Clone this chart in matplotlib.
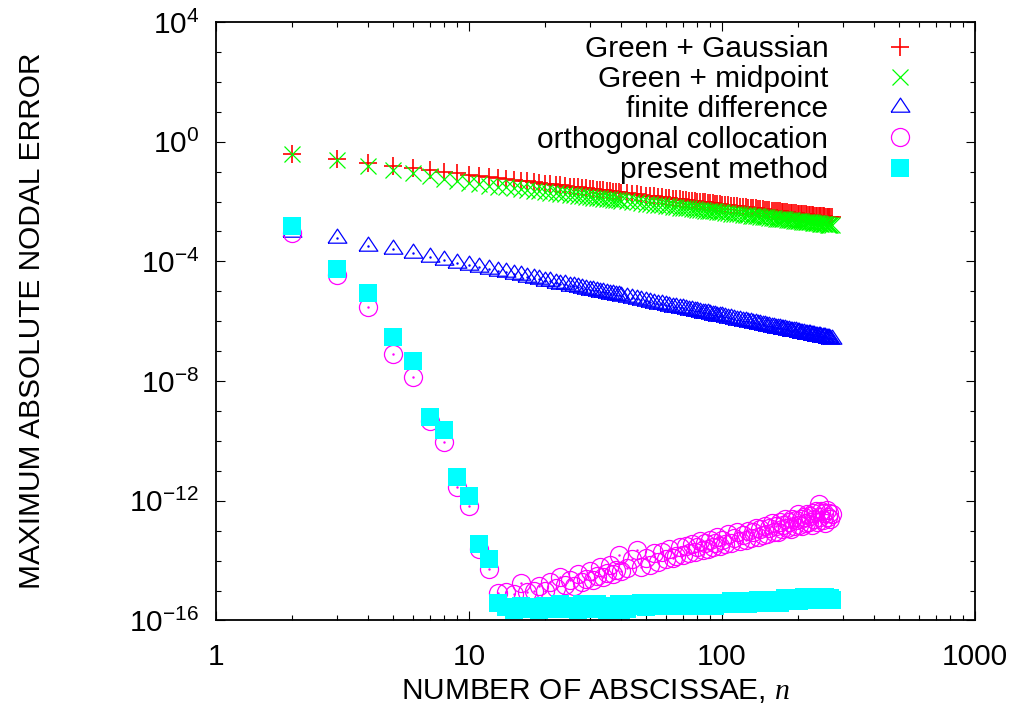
import numpy as np
import matplotlib
matplotlib.use("Agg")
import matplotlib.pyplot as plt
from matplotlib.ticker import NullFormatter

plt.rcParams["font.family"] = ["Liberation Sans", "DejaVu Sans"]
plt.rcParams["mathtext.fontset"] = "custom"
plt.rcParams["mathtext.rm"] = "Liberation Sans"
plt.rcParams["mathtext.it"] = "Liberation Serif:italic"

# number of abscissae (sampled from the plotted range)
n_vals = [2, 3, 4, 5, 6, 7, 8, 9, 10, 11, 12, 13,
          14, 15, 16, 17, 18, 19, 20, 21, 22, 23, 24, 25, 26, 27, 28, 29, 30,
          31, 32, 33, 34, 35, 36, 37, 38, 39, 40,
          42, 44, 46, 48, 50, 52, 54, 56, 58, 60, 62, 64, 66, 68, 70,
          72, 74, 76, 78, 80, 82, 84, 86, 88, 90, 92, 94, 96, 98, 100,
          103, 106, 109, 112, 115, 118, 121, 124, 127, 130, 133, 136, 139, 142, 145,
          148, 151, 154, 157, 160, 163, 166, 169, 172, 175, 178, 181, 184, 187, 190,
          193, 196, 199, 202, 205, 208, 211, 214, 217, 220, 223, 226, 229, 232, 235,
          238, 241, 244, 247, 250, 253, 256, 259, 262, 265, 268, 271]

# log10 of max absolute nodal error
gauss_log = [-0.40, -0.58, -0.70, -0.80, -0.88, -0.95, -1.00, -1.05, -1.10, -1.14, -1.18, -1.21,
             -1.25, -1.28, -1.30, -1.33, -1.35, -1.38, -1.40, -1.42, -1.44, -1.46, -1.48, -1.50, -1.52, -1.53, -1.55, -1.56, -1.58,
             -1.59, -1.60, -1.62, -1.63, -1.64, -1.66, -1.67, -1.68, -1.69, -1.70,
             -1.72, -1.74, -1.76, -1.78, -1.80, -1.82, -1.83, -1.85, -1.86, -1.88, -1.89, -1.91, -1.92, -1.93, -1.95,
             -1.96, -1.97, -1.98, -1.99, -2.00, -2.01, -2.02, -2.03, -2.04, -2.05, -2.06, -2.07, -2.08, -2.09, -2.10,
             -2.11, -2.13, -2.14, -2.15, -2.16, -2.17, -2.18, -2.19, -2.20, -2.21, -2.22, -2.23, -2.24, -2.25, -2.26,
             -2.27, -2.28, -2.29, -2.30, -2.30, -2.31, -2.32, -2.33, -2.34, -2.34, -2.35, -2.36, -2.37, -2.37, -2.38,
             -2.39, -2.39, -2.40, -2.41, -2.41, -2.42, -2.42, -2.43, -2.44, -2.44, -2.45, -2.45, -2.46, -2.47, -2.47,
             -2.48, -2.48, -2.49, -2.49, -2.50, -2.50, -2.51, -2.51, -2.52, -2.52, -2.53, -2.53]

midpoint_log = [-0.41, -0.61, -0.80, -0.94, -1.05, -1.16, -1.25, -1.33, -1.39, -1.43, -1.47, -1.50,
                -1.53, -1.56, -1.59, -1.61, -1.64, -1.66, -1.68, -1.70, -1.72, -1.74, -1.76, -1.78, -1.79, -1.81, -1.82, -1.84, -1.85,
                -1.87, -1.88, -1.89, -1.91, -1.92, -1.93, -1.94, -1.95, -1.96, -1.97,
                -1.99, -2.01, -2.03, -2.05, -2.07, -2.08, -2.10, -2.12, -2.13, -2.15, -2.16, -2.17, -2.19, -2.20, -2.21,
                -2.22, -2.23, -2.24, -2.26, -2.27, -2.28, -2.29, -2.30, -2.31, -2.32, -2.32, -2.33, -2.34, -2.35, -2.36,
                -2.37, -2.38, -2.40, -2.41, -2.42, -2.43, -2.44, -2.45, -2.46, -2.47, -2.48, -2.49, -2.50, -2.51, -2.52,
                -2.52, -2.53, -2.54, -2.55, -2.56, -2.57, -2.57, -2.58, -2.59, -2.60, -2.60, -2.61, -2.62, -2.62, -2.63,
                -2.64, -2.64, -2.65, -2.66, -2.66, -2.67, -2.67, -2.68, -2.69, -2.69, -2.70, -2.70, -2.71, -2.71, -2.72,
                -2.73, -2.73, -2.74, -2.74, -2.75, -2.75, -2.76, -2.76, -2.77, -2.77, -2.78, -2.78]

fd_log = [-3.01, -3.23, -3.47, -3.59, -3.73, -3.85, -3.97, -4.04, -4.12, -4.19, -4.26, -4.32,
          -4.37, -4.42, -4.47, -4.52, -4.56, -4.60, -4.64, -4.67, -4.71, -4.74, -4.77, -4.81, -4.83, -4.86, -4.89, -4.91, -4.94,
          -4.96, -4.99, -5.01, -5.03, -5.06, -5.08, -5.10, -5.12, -5.14, -5.16,
          -5.19, -5.23, -5.26, -5.29, -5.32, -5.35, -5.38, -5.41, -5.43, -5.46, -5.48, -5.51, -5.53, -5.55, -5.57,
          -5.59, -5.61, -5.64, -5.65, -5.67, -5.69, -5.71, -5.73, -5.74, -5.76, -5.78, -5.79, -5.81, -5.82, -5.84,
          -5.86, -5.88, -5.90, -5.92, -5.95, -5.96, -5.98, -6.00, -6.02, -6.04, -6.05, -6.07, -6.09, -6.10, -6.12,
          -6.13, -6.15, -6.16, -6.18, -6.19, -6.21, -6.22, -6.23, -6.25, -6.26, -6.27, -6.28, -6.30, -6.31, -6.32,
          -6.33, -6.34, -6.35, -6.36, -6.38, -6.39, -6.40, -6.41, -6.42, -6.43, -6.44, -6.45, -6.46, -6.47, -6.48,
          -6.49, -6.50, -6.51, -6.52, -6.52, -6.53, -6.54, -6.55, -6.56, -6.57, -6.58, -6.59]

colloc_log = [-3.04, -4.47, -5.53, -7.09, -7.88, -9.35, -10.04, -11.54, -12.17, -13.62, -14.28, -15.07,
              -15.05, -15.10, -14.75, -15.05, -15.00, -14.85, -15.00, -14.70, -14.90, -14.55, -14.80, -14.65, -14.85, -14.45, -14.70, -14.60, -14.35,
              -14.65, -14.50, -14.20, -14.55, -14.40, -14.15, -14.45, -14.30, -13.80, -14.35,
              -14.25, -13.95, -13.65, -14.20, -13.90, -14.15, -13.75, -14.05, -13.70, -13.95, -13.60, -13.90, -13.85, -13.55, -13.80,
              -13.50, -13.75, -13.45, -13.70, -13.55, -13.35, -13.65, -13.40, -13.60, -13.30, -13.55, -13.40, -13.20, -13.50, -13.30,
              -13.45, -13.10, -13.40, -13.25, -13.05, -13.35, -13.15, -13.30, -13.00, -13.25, -13.05, -12.90, -13.20, -12.95, -13.15,
              -12.85, -13.10, -12.90, -12.75, -13.05, -12.85, -13.05, -12.70, -12.95, -12.80, -12.60, -12.90, -12.70, -12.95, -12.60,
              -12.85, -12.65, -12.45, -12.80, -12.60, -12.85, -12.55, -12.75, -12.45, -12.70, -12.50, -12.80, -12.40, -12.60, -12.35,
              -12.70, -12.10, -12.55, -12.35, -12.65, -12.40, -12.75, -12.30, -12.55, -12.40, -12.60, -12.45]

present_log = [-2.81, -4.24, -5.04, -6.54, -7.34, -9.19, -9.64, -11.22, -11.85, -13.44, -13.95, -15.40,
               -15.55, -15.65, -15.50, -15.60, -15.55, -15.65, -15.50, -15.60, -15.55, -15.45, -15.60, -15.50, -15.55, -15.65, -15.45, -15.60, -15.50,
               -15.55, -15.45, -15.60, -15.50, -15.65, -15.55, -15.50, -15.60, -15.45, -15.65,
               -15.60, -15.45, -15.50, -15.40, -15.55, -15.45, -15.40, -15.50, -15.45, -15.40, -15.50, -15.45, -15.40, -15.50, -15.45,
               -15.40, -15.45, -15.50, -15.40, -15.45, -15.40, -15.50, -15.45, -15.40, -15.45, -15.40, -15.50, -15.45, -15.40, -15.45,
               -15.40, -15.45, -15.35, -15.40, -15.45, -15.35, -15.40, -15.35, -15.45, -15.40, -15.35, -15.40, -15.30, -15.40, -15.35,
               -15.40, -15.30, -15.35, -15.40, -15.30, -15.35, -15.30, -15.40, -15.30, -15.35, -15.25, -15.35, -15.30, -15.25, -15.35,
               -15.30, -15.25, -15.30, -15.35, -15.25, -15.30, -15.20, -15.30, -15.25, -15.30, -15.20, -15.30, -15.25, -15.20, -15.30,
               -15.25, -15.30, -15.20, -15.25, -15.30, -15.25, -15.20, -15.30, -15.25, -15.30, -15.25, -15.30]

series_labels = ["Green + Gaussian", "Green + midpoint", "finite difference",
                 "orthogonal collocation", "present method"]
x_tick_labels = ["1", "10", "100", "1000"]
y_tick_exps = [-16, -12, -8, -4, 0, 4]

n = np.array(n_vals)
tri = [(-1.0, -0.5), (1.0, -0.5), (0.0, 1.0), (-1.0, -0.5)]

fig = plt.figure(figsize=(10.28, 7.16), dpi=100)
ax = fig.add_axes([0.2101, 0.1334, 0.7383, 0.8359])

ax.plot(n, 10.0 ** np.array(gauss_log), ls="none", marker="+", ms=13, mew=1.2,
        color="#ff0000", label=series_labels[0])
ax.plot(n, 10.0 ** np.array(midpoint_log), ls="none", marker="x", ms=11.5, mew=0.9,
        color="#00ff00", label=series_labels[1])
ax.plot(n, 10.0 ** np.array(fd_log), ls="none", marker=tri, ms=13.5, mew=0.9,
        mfc="none", mec="#0000ff", label=series_labels[2])
ax.plot(n, 10.0 ** np.array(fd_log), ls="none", marker=".", ms=1.5, color="#0000ff")
ax.plot(n, 10.0 ** np.array(colloc_log), ls="none", marker="o", ms=13, mew=0.9,
        mfc="none", mec="#ff00ff", label=series_labels[3])
ax.plot(n, 10.0 ** np.array(colloc_log), ls="none", marker=".", ms=1.5, color="#ff00ff")
ax.plot(n, 10.0 ** np.array(present_log), ls="none", marker="s", ms=13.5, mew=0,
        color="#00ffff", label=series_labels[4])

ax.set_xscale("log")
ax.set_yscale("log")
ax.set_xlim(1, 1000)
ax.set_ylim(1e-16, 1e4)

ax.set_xticks([1, 10, 100, 1000], labels=x_tick_labels)
ax.set_yticks([10.0 ** e for e in y_tick_exps],
              labels=[r"$\mathregular{10^{%d}}$" % e for e in y_tick_exps])
ax.set_yticks([10.0 ** e for e in range(-16, 5) if e not in y_tick_exps], minor=True)
ax.xaxis.set_minor_formatter(NullFormatter())
ax.yaxis.set_minor_formatter(NullFormatter())

ax.tick_params(which="both", direction="in", top=True, right=True, labelsize=21.5,
               width=0.8, color="black")
ax.tick_params(which="major", length=6.5)
ax.tick_params(which="minor", length=3.3)
ax.tick_params(axis="x", which="major", pad=16)
ax.tick_params(axis="y", which="major", pad=12)
for sp in ax.spines.values():
    sp.set_linewidth(1.3)

ax.set_xlabel(r"NUMBER OF ABSCISSAE, $n$", fontsize=21.5, labelpad=4.5)
ax.set_ylabel("MAXIMUM ABSOLUTE NODAL ERROR", fontsize=21.5, labelpad=60)

ax.legend(loc="upper right", bbox_to_anchor=(915 / 1028, 1 - 35 / 716),
          bbox_transform=fig.transFigure, frameon=False, markerfirst=False,
          fontsize=21.5, handlelength=1.0, handletextpad=1.9, labelspacing=0.075,
          borderpad=0, borderaxespad=0)

fig.savefig("out.png", dpi=100)
